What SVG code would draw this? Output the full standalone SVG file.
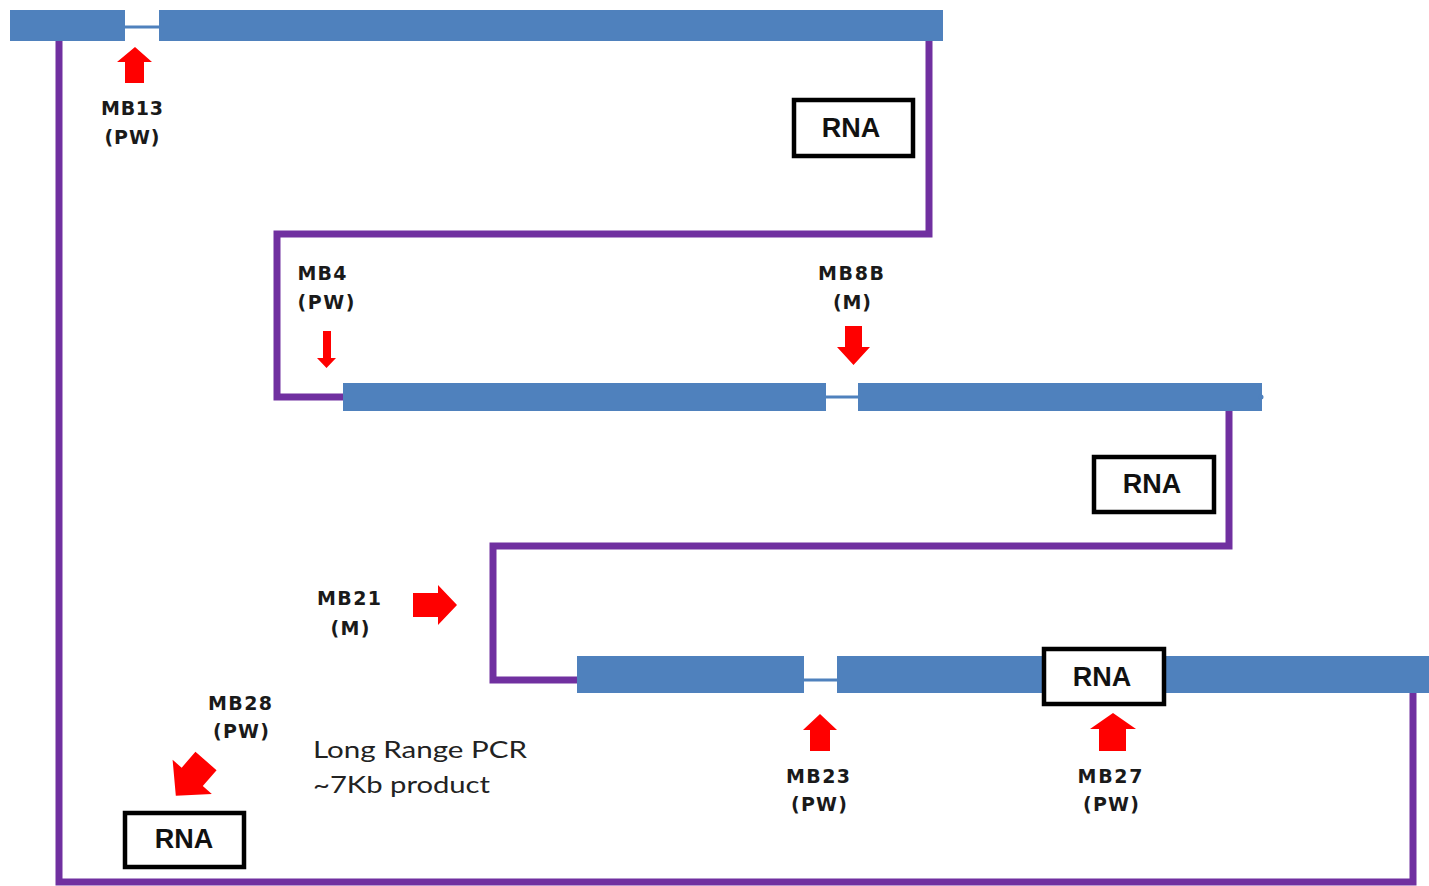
<svg xmlns="http://www.w3.org/2000/svg" width="1429" height="886" viewBox="0 0 1429 886">
<style>
.bar{fill:#4F81BD}
.gap{stroke:#4F81BD;stroke-width:3;fill:none}
.wire{stroke:#7030A0;stroke-width:7;fill:none;stroke-linejoin:miter}
.arr{fill:#FF0000}
.box{fill:#fff;stroke:#000;stroke-width:4.5}
.rna{font-family:"Liberation Sans",Arial,sans-serif;font-weight:bold;font-size:27px;fill:#111;text-anchor:middle}
.lab{font-family:"DejaVu Sans",Verdana,sans-serif;font-weight:bold;font-size:19px;fill:#1a1a1a;text-anchor:middle}
.note{font-family:Lato,"Open Sans",sans-serif;font-size:23px;fill:#222}
</style>
<rect width="1429" height="886" fill="#fff"/>
<g id="connectors">
<path class="wire" d="M59,41 V882 H1413 V693"/>
<path class="wire" d="M929,41 V234 H277 V397 H343"/>
<path class="wire" d="M1229,411 V546 H493 V680 H577"/>
</g>
<g id="row1">
<rect class="bar" x="10" y="10" width="115" height="31"/>
<line class="gap" x1="125" y1="27" x2="159" y2="27"/>
<rect class="bar" x="159" y="10" width="784" height="31"/>
</g>
<g id="row2">
<rect class="bar" x="343" y="383" width="483" height="28"/>
<line class="gap" x1="826" y1="397" x2="858" y2="397"/>
<rect class="bar" x="858" y="383" width="404" height="28"/>
<circle class="bar" cx="1261" cy="397" r="2.5"/>
</g>
<g id="row3">
<rect class="bar" x="577" y="656" width="227" height="37"/>
<line class="gap" x1="804" y1="680" x2="837" y2="680"/>
<rect class="bar" x="837" y="656" width="592" height="37"/>
</g>
<g id="rna1"><rect class="box" x="794" y="100" width="119" height="56"/><text class="rna" x="851" y="137">RNA</text></g>
<g id="rna2"><rect class="box" x="1094" y="457" width="120" height="55"/><text class="rna" x="1152" y="493">RNA</text></g>
<g id="rna3"><rect class="box" x="1044" y="649" width="120" height="55"/><text class="rna" x="1102" y="686">RNA</text></g>
<g id="rna4"><rect class="box" x="125" y="813" width="119" height="54"/><text class="rna" x="184" y="848">RNA</text></g>
<g id="mb13">
<polygon class="arr" points="135,47 152,62 144,62 144,83 125,83 125,62 117,62"/>
<text class="lab" x="132" y="115" textLength="62" lengthAdjust="spacing">MB13</text>
<text class="lab" x="132" y="144" textLength="55" lengthAdjust="spacing">(PW)</text>
</g>
<g id="mb4">
<polygon class="arr" points="323,331 331,331 331,358 336,358 326.5,368 317,358 323,358"/>
<text class="lab" x="322" y="280" textLength="49" lengthAdjust="spacing">MB4</text>
<text class="lab" x="326" y="309" textLength="57" lengthAdjust="spacing">(PW)</text>
</g>
<g id="mb8b">
<polygon class="arr" points="845,326 862,326 862,347 870,347 853.5,365 837,347 845,347"/>
<text class="lab" x="851" y="280" textLength="66" lengthAdjust="spacing">MB8B</text>
<text class="lab" x="852" y="309" textLength="38" lengthAdjust="spacing">(M)</text>
</g>
<g id="mb21">
<polygon class="arr" points="413,593 438,593 438,585 457,605 438,625 438,617 413,617"/>
<text class="lab" x="349" y="605" textLength="64" lengthAdjust="spacing">MB21</text>
<text class="lab" x="350" y="635" textLength="39" lengthAdjust="spacing">(M)</text>
</g>
<g id="mb28">
<polygon class="arr" transform="translate(206,761) rotate(41)" points="-14,0 14,0 14,21 26,21 0,46 -26,21 -14,21"/>
<text class="lab" x="240" y="710" textLength="64" lengthAdjust="spacing">MB28</text>
<text class="lab" x="241" y="738" textLength="56" lengthAdjust="spacing">(PW)</text>
</g>
<g id="mb23">
<polygon class="arr" points="820,714 837,730 830,730 830,751 810,751 810,730 803,730"/>
<text class="lab" x="818" y="783" textLength="64" lengthAdjust="spacing">MB23</text>
<text class="lab" x="819" y="811" textLength="56" lengthAdjust="spacing">(PW)</text>
</g>
<g id="mb27">
<polygon class="arr" points="1113,713 1136,729 1126,729 1126,751 1099,751 1099,729 1090,729"/>
<text class="lab" x="1110" y="783" textLength="65" lengthAdjust="spacing">MB27</text>
<text class="lab" x="1111" y="811" textLength="56" lengthAdjust="spacing">(PW)</text>
</g>
<g id="note">
<text class="note" x="313" y="758" textLength="214" lengthAdjust="spacingAndGlyphs">Long Range PCR</text>
<text class="note" x="313" y="793" textLength="177" lengthAdjust="spacingAndGlyphs">~7Kb product</text>
</g>
</svg>
